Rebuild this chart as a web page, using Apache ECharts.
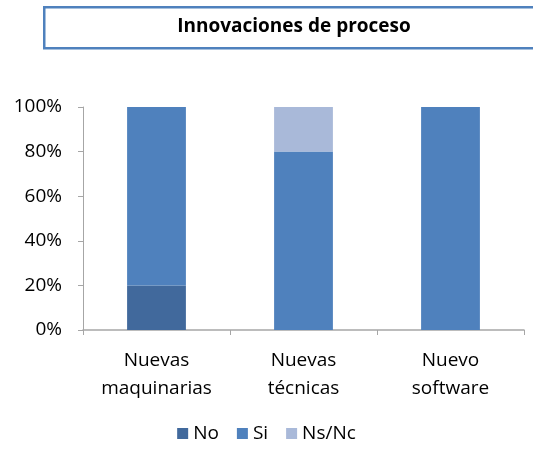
<!DOCTYPE html>
<html>
<head>
<meta charset="utf-8">
<style>
  html, body { margin: 0; padding: 0; background: #fff; }
  #chart { width: 533px; height: 449px; }
</style>
<script src="https://cdn.jsdelivr.net/npm/echarts@6/dist/echarts.min.js"></script>
</head>
<body>
<div id="chart"></div>
<script>
// categories and stacked shares (percent)
const categories = ['Nuevas\nmaquinarias', 'Nuevas\ntécnicas', 'Nuevo\nsoftware']
const noValues = [20, 0, 0]
const siValues = [80, 80, 100]
const nsncValues = [0, 20, 0]

const fontFamily = '"Open Sans", "Liberation Sans", sans-serif'
const axisGray = '#a6a6a6'

const chart = echarts.init(document.getElementById('chart'))

chart.setOption({
  animation: false,
  textStyle: { fontFamily: fontFamily },
  graphic: [{
    type: 'rect',
    left: 43,
    top: 6,
    shape: { width: 500, height: 41 },
    style: { fill: '#fff', stroke: '#4f81bd', lineWidth: 2.5 }
  }, {
    type: 'text',
    x: 294,
    y: 27,
    style: {
      text: 'Innovaciones de proceso',
      font: 'bold 19px ' + fontFamily,
      fill: '#000',
      align: 'center',
      verticalAlign: 'middle'
    }
  }],
  legend: {
    bottom: 1,
    left: 'center',
    itemWidth: 11,
    itemHeight: 11,
    itemGap: 18,
    icon: 'rect',
    textStyle: { fontSize: 19, color: '#000', fontFamily: fontFamily },
    data: ['No', 'Si', 'Ns/Nc']
  },
  grid: {
    top: 107,
    left: 83,
    right: 9,
    bottom: 119
  },
  xAxis: {
    type: 'category',
    data: categories,
    axisLine: { lineStyle: { color: axisGray, width: 1.5 } },
    axisTick: { show: true, length: 5, lineStyle: { color: axisGray } },
    axisLabel: { fontSize: 19, color: '#000', lineHeight: 28, margin: 17, fontFamily: fontFamily }
  },
  yAxis: {
    type: 'value',
    min: 0,
    max: 100,
    interval: 20,
    splitLine: { show: false },
    axisLine: { show: true, lineStyle: { color: axisGray } },
    axisTick: { show: true, length: 5, lineStyle: { color: axisGray } },
    axisLabel: {
      fontSize: 19,
      color: '#000',
      margin: 21,
      fontFamily: fontFamily,
      formatter: '{value}%'
    }
  },
  series: [{
    name: 'No',
    type: 'bar',
    stack: 'total',
    barWidth: '40%',
    itemStyle: { color: '#41699c' },
    data: noValues
  }, {
    name: 'Si',
    type: 'bar',
    stack: 'total',
    barWidth: '40%',
    itemStyle: { color: '#4f81bd' },
    data: siValues
  }, {
    name: 'Ns/Nc',
    type: 'bar',
    stack: 'total',
    barWidth: '40%',
    itemStyle: { color: '#a9b9d9' },
    data: nsncValues
  }]
})
</script>
</body>
</html>
